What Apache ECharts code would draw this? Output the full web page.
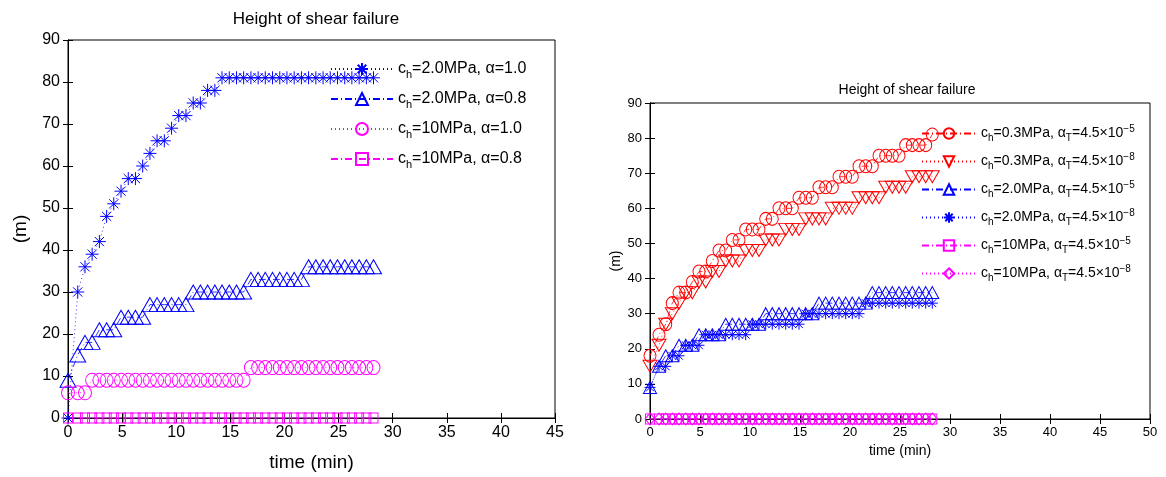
<!DOCTYPE html>
<html>
<head>
<meta charset="utf-8">
<script src="https://cdn.jsdelivr.net/npm/echarts@6/dist/echarts.min.js"></script>
<style>html,body{margin:0;padding:0;background:#fff}#c{width:1166px;height:477px}</style>
</head>
<body>
<div id="c"></div>
<script>
// ---- data ----
const time = [0, 0.9, 1.57, 2.23, 2.9, 3.57, 4.23, 4.9, 5.57, 6.23, 6.9, 7.57, 8.23, 8.9, 9.57, 10.23, 10.9, 11.57, 12.23, 12.9, 13.57, 14.23, 14.9, 15.57, 16.23, 16.9, 17.57, 18.23, 18.9, 19.57, 20.23, 20.9, 21.57, 22.23, 22.9, 23.57, 24.23, 24.9, 25.57, 26.23, 26.9, 27.57, 28.23];

// left chart
const leftNames = ['c_h=2.0MPa, α=1.0', 'c_h=2.0MPa, α=0.8', 'c_h=10MPa, α=1.0', 'c_h=10MPa, α=0.8'];
const leftCh2a10 = [0, 30, 36, 39, 42, 48, 51, 54, 57, 57, 60, 63, 66, 66, 69, 72, 72, 75, 75, 78, 78, 81, 81, 81, 81, 81, 81, 81, 81, 81, 81, 81, 81, 81, 81, 81, 81, 81, 81, 81, 81, 81, 81];
const leftCh2a08 = [9, 15, 18, 18, 21, 21, 21, 24, 24, 24, 24, 27, 27, 27, 27, 27, 27, 30, 30, 30, 30, 30, 30, 30, 30, 33, 33, 33, 33, 33, 33, 33, 33, 36, 36, 36, 36, 36, 36, 36, 36, 36, 36];
const leftCh10a10 = [6, 6, 6, 9, 9, 9, 9, 9, 9, 9, 9, 9, 9, 9, 9, 9, 9, 9, 9, 9, 9, 9, 9, 9, 9, 12, 12, 12, 12, 12, 12, 12, 12, 12, 12, 12, 12, 12, 12, 12, 12, 12, 12];
const leftCh10a08 = [0, 0, 0, 0, 0, 0, 0, 0, 0, 0, 0, 0, 0, 0, 0, 0, 0, 0, 0, 0, 0, 0, 0, 0, 0, 0, 0, 0, 0, 0, 0, 0, 0, 0, 0, 0, 0, 0, 0, 0, 0, 0, 0];

// right chart
const rightNames = ['c_h=0.3MPa, α_T=4.5×10^{−5}', 'c_h=0.3MPa, α_T=4.5×10^{−8}', 'c_h=2.0MPa, α_T=4.5×10^{−5}', 'c_h=2.0MPa, α_T=4.5×10^{−8}', 'c_h=10MPa, α_T=4.5×10^{−5}', 'c_h=10MPa, α_T=4.5×10^{−8}'];
const rightCh03a5 = [18, 24, 27, 33, 36, 36, 39, 42, 42, 45, 48, 48, 51, 51, 54, 54, 54, 57, 57, 60, 60, 60, 63, 63, 63, 66, 66, 66, 69, 69, 69, 72, 72, 72, 75, 75, 75, 75, 78, 78, 78, 78, 81];
const rightCh03a8 = [15, 21, 27, 30, 33, 36, 36, 39, 39, 42, 42, 45, 45, 45, 48, 48, 48, 51, 51, 51, 54, 54, 54, 57, 57, 57, 57, 60, 60, 60, 60, 63, 63, 63, 63, 66, 66, 66, 66, 69, 69, 69, 69];
const rightCh2a5 = [9, 15, 18, 18, 21, 21, 21, 24, 24, 24, 24, 27, 27, 27, 27, 27, 27, 30, 30, 30, 30, 30, 30, 30, 30, 33, 33, 33, 33, 33, 33, 33, 33, 36, 36, 36, 36, 36, 36, 36, 36, 36, 36];
const rightCh2a8 = [9, 15, 15, 18, 18, 21, 21, 21, 24, 24, 24, 24, 24, 24, 24, 27, 27, 27, 27, 27, 27, 27, 27, 30, 30, 30, 30, 30, 30, 30, 30, 30, 33, 33, 33, 33, 33, 33, 33, 33, 33, 33, 33];
const rightCh10a5 = [0, 0, 0, 0, 0, 0, 0, 0, 0, 0, 0, 0, 0, 0, 0, 0, 0, 0, 0, 0, 0, 0, 0, 0, 0, 0, 0, 0, 0, 0, 0, 0, 0, 0, 0, 0, 0, 0, 0, 0, 0, 0, 0];
const rightCh10a8 = [0, 0, 0, 0, 0, 0, 0, 0, 0, 0, 0, 0, 0, 0, 0, 0, 0, 0, 0, 0, 0, 0, 0, 0, 0, 0, 0, 0, 0, 0, 0, 0, 0, 0, 0, 0, 0, 0, 0, 0, 0, 0, 0];

const titleText = 'Height of shear failure';
const xName = 'time (min)';
const yName = '(m)';

// ---- styling ----
const FONT = '"Liberation Sans", Arial, Helvetica, sans-serif';
const BLUE = '#0000ff', RED = '#ff0000', MAG = '#ff00ff';
const STAR = 'path://M0,-10L0,10M-10,0L10,0M-7.1,-7.1L7.1,7.1M-7.1,7.1L7.1,-7.1';
const TDOWN = 'path://M0,0L20,0L10,17Z';
const DOT = [1, 3];
const DASHDOT = [7, 3, 1, 3];

function pairs(v) { return time.map((t, i) => [t, v[i]]); }

function richName(name, pre) {
  let out = '';
  let i = 0, buf = '';
  const flush = () => { if (buf) { out += '{' + pre + 'n|' + buf + '}'; buf = ''; } };
  while (i < name.length) {
    const ch = name[i];
    if (ch === '_') { flush(); out += '{' + pre + 'sub|' + name[i + 1] + '}'; i += 2; continue; }
    if (ch === '^' && name[i + 1] === '{') {
      flush(); const j = name.indexOf('}', i);
      out += '{' + pre + 'sup|' + name.slice(i + 2, j) + '}'; i = j + 1; continue;
    }
    buf += ch; i++;
  }
  flush();
  return out;
}

function mkSeries(name, data, grid, color, symbol, size, dash) {
  return {
    type: 'line', name: name, xAxisIndex: grid * 2, yAxisIndex: grid * 2,
    data: pairs(data), symbol: symbol, symbolSize: size, showAllSymbol: true,
    animation: false, clip: false,
    lineStyle: { color: color, width: 0.8, type: dash },
    itemStyle: { color: 'rgba(0,0,0,0)', borderColor: color, borderWidth: 1 }
  };
}

function axesFor(grid, xmax, ymax, fs, nameFs, xGap, yGap) {
  const common = {
    gridIndex: grid, type: 'value', min: 0,
    axisLine: { show: true, lineStyle: { color: '#000', width: 1 } },
    axisTick: { show: true, inside: true, length: 5, lineStyle: { color: '#000' } },
    splitLine: { show: false }
  };
  const xb = Object.assign({}, common, {
    position: 'bottom', max: xmax, interval: 5,
    axisLabel: { fontSize: fs, color: '#000', fontFamily: FONT, margin: 7 },
    name: xName, nameLocation: 'middle', nameGap: xGap,
    nameTextStyle: { fontSize: nameFs, color: '#000', fontFamily: FONT }
  });
  const xt = Object.assign({}, common, { position: 'top', max: xmax, interval: 5, axisLabel: { show: false } });
  const yl = Object.assign({}, common, {
    position: 'left', max: ymax, interval: 10,
    axisLabel: { fontSize: fs, color: '#000', fontFamily: FONT, margin: 8 },
    name: yName, nameLocation: 'middle', nameGap: yGap,
    nameTextStyle: { fontSize: nameFs, color: '#000', fontFamily: FONT }
  });
  const yr = Object.assign({}, common, { position: 'right', max: ymax, interval: 10, axisLabel: { show: false } });
  return { x: [xb, xt], y: [yl, yr] };
}

const aL = axesFor(0, 45, 90, 16, 19, 35, 38);
const aR = axesFor(1, 50, 90, 13, 14, 25, 25);
const xAxes = [aL.x[0], aL.x[1], aR.x[0], aR.x[1]];
const yAxes = [aL.y[0], aL.y[1], aR.y[0], aR.y[1]];

const series = [
  mkSeries(leftNames[0], leftCh2a10, 0, BLUE, STAR, 13, DOT),
  mkSeries(leftNames[1], leftCh2a08, 0, BLUE, 'triangle', [16, 14], DASHDOT),
  mkSeries(leftNames[2], leftCh10a10, 0, MAG, 'circle', [13, 14], DOT),
  mkSeries(leftNames[3], leftCh10a08, 0, MAG, 'rect', [9, 10], DASHDOT),
  mkSeries(rightNames[0], rightCh03a5, 1, RED, 'circle', [12, 13], DASHDOT),
  mkSeries(rightNames[1], rightCh03a8, 1, RED, TDOWN, [14, 12], DOT),
  mkSeries(rightNames[2], rightCh2a5, 1, BLUE, 'triangle', [13, 12], DASHDOT),
  mkSeries(rightNames[3], rightCh2a8, 1, BLUE, STAR, 11, DOT),
  mkSeries(rightNames[4], rightCh10a5, 1, MAG, 'rect', [9, 10], DASHDOT),
  mkSeries(rightNames[5], rightCh10a8, 1, MAG, 'diamond', [10, 12], DOT)
];

const option = {
  backgroundColor: '#fff',
  animation: false,
  title: [
    { text: titleText, left: 311, top: 6, textAlign: 'center',
      textStyle: { fontSize: 17, fontWeight: 'normal', color: '#000', fontFamily: FONT } },
    { text: titleText, left: 902, top: 78, textAlign: 'center',
      textStyle: { fontSize: 14, fontWeight: 'normal', color: '#000', fontFamily: FONT } }
  ],
  grid: [
    { left: 68, top: 40, width: 487, height: 380, show: true, borderColor: '#000', borderWidth: 1, backgroundColor: 'transparent' },
    { left: 650, top: 103, width: 500, height: 316, show: true, borderColor: '#000', borderWidth: 1, backgroundColor: 'transparent' }
  ],
  xAxis: xAxes,
  yAxis: yAxes,
  legend: [
    { data: leftNames, orient: 'vertical', left: 325, top: 53, itemWidth: 62, itemHeight: 15, itemGap: 8,
      formatter: n => richName(n, 'L'),
      textStyle: { fontFamily: FONT, color: '#000',
        rich: {
          Ln: { fontSize: 16, fontFamily: FONT, color: '#000', lineHeight: 22 },
          Lsub: { fontSize: 11, fontFamily: FONT, color: '#000', padding: [11, 0, 0, 0], lineHeight: 12 },
          Lsup: { fontSize: 10, fontFamily: FONT, color: '#000', padding: [0, 0, 10, 0], lineHeight: 11 }
        } } },
    { data: rightNames, orient: 'vertical', left: 916, top: 119, itemWidth: 54, itemHeight: 13, itemGap: 9,
      formatter: n => richName(n, 'R'),
      textStyle: { fontFamily: FONT, color: '#000',
        rich: {
          Rn: { fontSize: 14, fontFamily: FONT, color: '#000', lineHeight: 19 },
          Rsub: { fontSize: 10, fontFamily: FONT, color: '#000', padding: [9, 0, 0, 0], lineHeight: 10 },
          Rsup: { fontSize: 10, fontFamily: FONT, color: '#000', padding: [0, 0, 9, 0], lineHeight: 10 }
        } } }
  ],
  series: series
};

const chart = echarts.init(document.getElementById('c'), null, { renderer: 'canvas' });
chart.setOption(option);
</script>
</body>
</html>
